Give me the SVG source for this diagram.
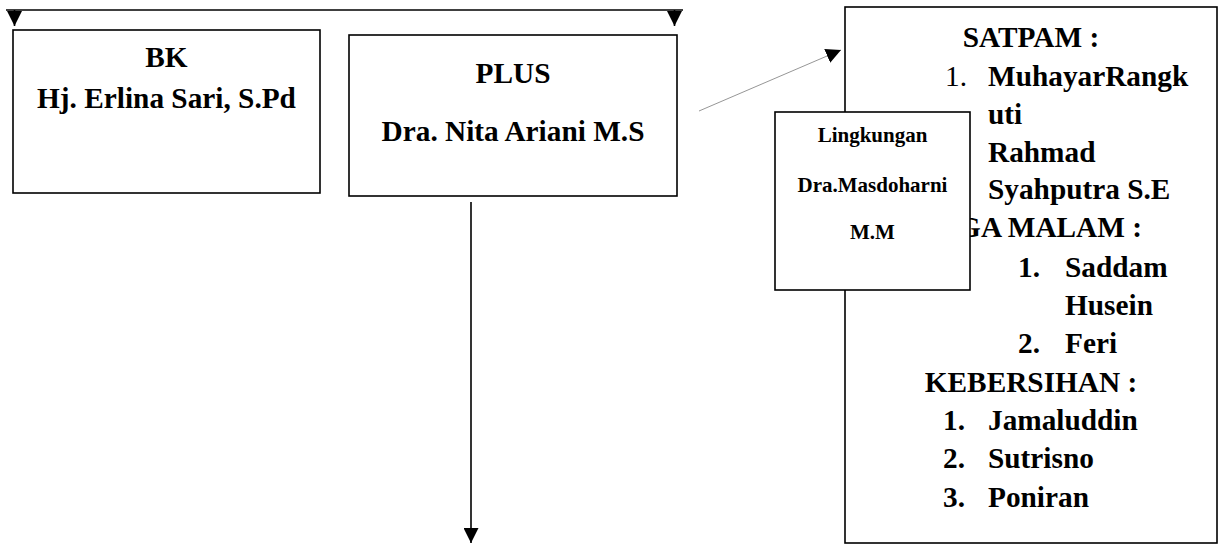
<svg xmlns="http://www.w3.org/2000/svg" width="1224" height="549" viewBox="0 0 1224 549">
<style>
  .box { fill: #ffffff; stroke: #000000; stroke-width: 1.6; }
  .t { font-family: "Liberation Serif", "Times New Roman", serif; font-weight: bold; font-size: 29.3px; fill: #000000; }
  .tc { text-anchor: middle; }
  .reg { font-weight: normal; }
  .small { font-size: 21px; }
  .line { fill: none; stroke: #000000; stroke-width: 1.6; }
  .thin { fill: none; stroke: #8a8a8a; stroke-width: 0.9; }
</style>
<defs>
  <marker id="arr" viewBox="0 0 10 10" refX="10" refY="5" markerWidth="15" markerHeight="15" markerUnits="userSpaceOnUse" orient="auto">
    <path d="M0,0 L10,5 L0,10 z" fill="#000000"/>
  </marker>
</defs>
<rect width="1224" height="549" fill="#ffffff"/>

<g id="bk">
  <rect class="box" x="13" y="30" width="307" height="163"/>
  <text class="t tc" x="166.5" y="67">BK</text>
  <text class="t tc" x="166.5" y="108">Hj. Erlina Sari, S.Pd</text>
</g>

<g id="plus">
  <rect class="box" x="349" y="35" width="328" height="161"/>
  <text class="t tc" x="513" y="83">PLUS</text>
  <text class="t tc" x="513" y="141">Dra. Nita Ariani M.S</text>
</g>

<g id="satpam">
  <rect class="box" x="845" y="7" width="372" height="536"/>
  <text class="t tc" x="1031" y="47">SATPAM :</text>
  <text class="t reg" x="945" y="86">1.</text>
  <text class="t" x="988" y="86">MuhayarRangk</text>
  <text class="t" x="988" y="124">uti</text>
  <text class="t" x="988" y="162">Rahmad</text>
  <text class="t" x="988" y="199">Syahputra S.E</text>
  <text class="t" x="1142" y="237" text-anchor="end">GA MALAM :</text>
  <text class="t" x="1018" y="277">1.</text>
  <text class="t" x="1065" y="277">Saddam</text>
  <text class="t" x="1065" y="315">Husein</text>
  <text class="t" x="1018" y="353">2.</text>
  <text class="t" x="1065" y="353">Feri</text>
  <text class="t tc" x="1031" y="392">KEBERSIHAN :</text>
  <text class="t" x="943" y="430">1.</text>
  <text class="t" x="988" y="430">Jamaluddin</text>
  <text class="t" x="943" y="468">2.</text>
  <text class="t" x="988" y="468">Sutrisno</text>
  <text class="t" x="943" y="507">3.</text>
  <text class="t" x="988" y="507">Poniran</text>
</g>

<g id="lingkungan">
  <rect class="box" x="775" y="112" width="195" height="178"/>
  <text class="t tc small" x="872.5" y="142">Lingkungan</text>
  <text class="t tc small" x="872.5" y="192">Dra.Masdoharni</text>
  <text class="t tc small" x="872.5" y="239">M.M</text>
</g>

<g id="connectors">
  <path class="line" d="M6,10 H683"/>
  <path class="line" d="M14.5,10 V26" marker-end="url(#arr)"/>
  <path class="line" d="M674.5,10 V26" marker-end="url(#arr)"/>
  <path class="line" d="M471,202 V543" marker-end="url(#arr)"/>
  <path class="thin" d="M699,111 L841,50" marker-end="url(#arr)"/>
</g>
</svg>
